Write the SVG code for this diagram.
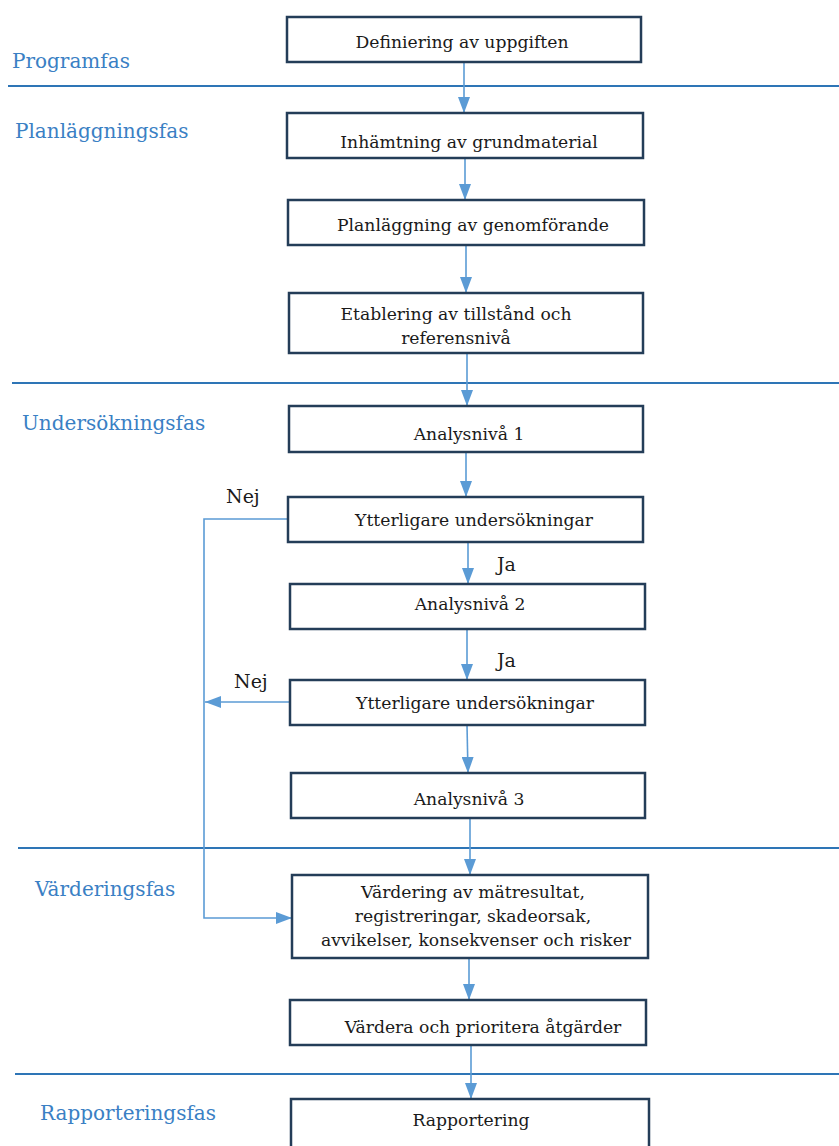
<svg xmlns="http://www.w3.org/2000/svg" width="839" height="1146" viewBox="0 0 839 1146">
  <style>
    .phase-line { stroke: #2e75b6; stroke-width: 2; fill: none; }
    .phase { font-family: "DejaVu Serif", "Liberation Serif", serif; font-size: 20px; fill: #3a80c4; }
    .box { fill: #ffffff; stroke: #243d58; stroke-width: 2.5; }
    .lbl { font-family: "DejaVu Serif", "Liberation Serif", serif; font-size: 17.2px; fill: #1a1a1a; text-anchor: middle; }
    .note { font-family: "DejaVu Serif", "Liberation Serif", serif; font-size: 19px; fill: #1a1a1a; }
    .conn { stroke: #5b9bd5; stroke-width: 1.6; fill: none; }
  </style>
  <defs>
    <marker id="arrow" markerUnits="userSpaceOnUse" markerWidth="16" markerHeight="12" refX="16" refY="6" orient="auto">
      <path d="M0,0 L16,6 L0,12 Z" fill="#5b9bd5"/>
    </marker>
  </defs>

  <rect width="839" height="1146" fill="#ffffff"/>

  <!-- phase separators -->
  <g id="phases">
    <line class="phase-line" x1="8" y1="86" x2="839" y2="86"/>
    <line class="phase-line" x1="12" y1="383" x2="839" y2="383"/>
    <line class="phase-line" x1="18" y1="848" x2="839" y2="848"/>
    <line class="phase-line" x1="15" y1="1074" x2="839" y2="1074"/>
    <text class="phase" x="12" y="68">Programfas</text>
    <text class="phase" x="15" y="138">Planläggningsfas</text>
    <text class="phase" x="22" y="430">Undersökningsfas</text>
    <text class="phase" x="35" y="896">Värderingsfas</text>
    <text class="phase" x="40" y="1120">Rapporteringsfas</text>
  </g>

  <!-- connectors -->
  <g id="connectors">
    <line class="conn" x1="464" y1="62" x2="464" y2="113" marker-end="url(#arrow)"/>
    <line class="conn" x1="465" y1="158" x2="465" y2="200" marker-end="url(#arrow)"/>
    <line class="conn" x1="466" y1="245" x2="466" y2="293" marker-end="url(#arrow)"/>
    <line class="conn" x1="467" y1="353" x2="467" y2="406" marker-end="url(#arrow)"/>
    <line class="conn" x1="466" y1="452" x2="466" y2="497" marker-end="url(#arrow)"/>
    <line class="conn" x1="468" y1="542" x2="468" y2="584" marker-end="url(#arrow)"/>
    <line class="conn" x1="467" y1="629" x2="467" y2="680" marker-end="url(#arrow)"/>
    <line class="conn" x1="467" y1="725" x2="468" y2="773" marker-end="url(#arrow)"/>
    <line class="conn" x1="470" y1="818" x2="470" y2="875" marker-end="url(#arrow)"/>
    <line class="conn" x1="469" y1="958" x2="469" y2="1000" marker-end="url(#arrow)"/>
    <line class="conn" x1="471" y1="1045" x2="471" y2="1099" marker-end="url(#arrow)"/>
    <polyline class="conn" points="288,519 204,519 204,918 292,918" marker-end="url(#arrow)"/>
    <line class="conn" x1="290" y1="702" x2="205" y2="702" marker-end="url(#arrow)"/>
    <text class="note" x="226" y="503">Nej</text>
    <text class="note" x="234" y="688">Nej</text>
    <text class="note" x="497" y="571">Ja</text>
    <text class="note" x="497" y="667">Ja</text>
  </g>

  <g id="n1"><rect class="box" x="287" y="17" width="354" height="45"/><text class="lbl" x="462" y="48">Definiering av uppgiften</text></g>
  <g id="n2"><rect class="box" x="287" y="113" width="356" height="45"/><text class="lbl" x="469" y="148">Inhämtning av grundmaterial</text></g>
  <g id="n3"><rect class="box" x="288" y="200" width="356" height="45"/><text class="lbl" x="473" y="231">Planläggning av genomförande</text></g>
  <g id="n4"><rect class="box" x="289" y="293" width="354" height="60"/><text class="lbl" x="456" y="320">Etablering av tillstånd och</text><text class="lbl" x="456" y="344">referensnivå</text></g>
  <g id="n5"><rect class="box" x="289" y="406" width="354" height="46"/><text class="lbl" x="469" y="440">Analysnivå 1</text></g>
  <g id="n6"><rect class="box" x="288" y="497" width="355" height="45"/><text class="lbl" x="474" y="526">Ytterligare undersökningar</text></g>
  <g id="n7"><rect class="box" x="290" y="584" width="355" height="45"/><text class="lbl" x="470" y="610">Analysnivå 2</text></g>
  <g id="n8"><rect class="box" x="290" y="680" width="355" height="45"/><text class="lbl" x="475" y="709">Ytterligare undersökningar</text></g>
  <g id="n9"><rect class="box" x="291" y="773" width="354" height="45"/><text class="lbl" x="469" y="805">Analysnivå 3</text></g>
  <g id="n10"><rect class="box" x="292" y="875" width="356" height="83"/><text class="lbl" x="473" y="898">Värdering av mätresultat,</text><text class="lbl" x="473" y="922">registreringar, skadeorsak,</text><text class="lbl" x="476" y="946">avvikelser, konsekvenser och risker</text></g>
  <g id="n11"><rect class="box" x="290" y="1000" width="356" height="45"/><text class="lbl" x="483" y="1033">Värdera och prioritera åtgärder</text></g>
  <g id="n12"><rect class="box" x="291" y="1099" width="358" height="60"/><text class="lbl" x="471" y="1126">Rapportering</text></g>
</svg>
